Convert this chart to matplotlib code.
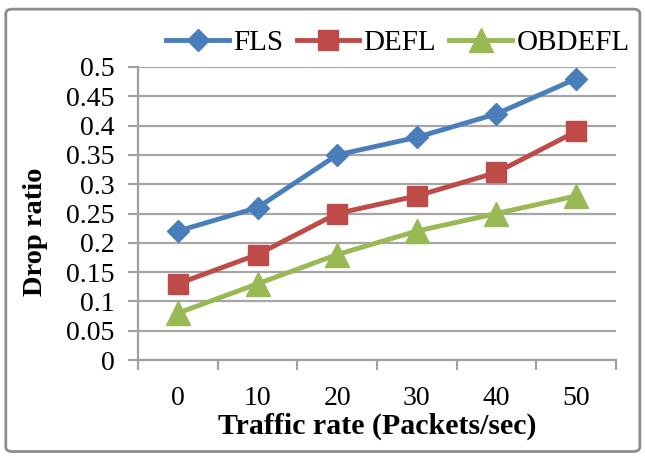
import matplotlib
matplotlib.use("Agg")
import matplotlib.pyplot as plt
from matplotlib.patches import FancyBboxPatch
import numpy as np

categories = ["0", "10", "20", "30", "40", "50"]
fls = [0.22, 0.26, 0.35, 0.38, 0.42, 0.48]
defl = [0.13, 0.18, 0.25, 0.28, 0.32, 0.39]
obdefl = [0.08, 0.13, 0.18, 0.22, 0.25, 0.28]
yticks = [0, 0.05, 0.1, 0.15, 0.2, 0.25, 0.3, 0.35, 0.4, 0.45, 0.5]
ytick_labels = ["0", "0.05", "0.1", "0.15", "0.2", "0.25", "0.3", "0.35", "0.4", "0.45", "0.5"]

plt.rcParams['font.family'] = ['Liberation Serif', 'DejaVu Serif']

W, H = 645, 457
fig = plt.figure(figsize=(W / 100, H / 100), dpi=100)
border = FancyBboxPatch((0.009, 0.012), 0.983, 0.968, boxstyle="round,pad=0,rounding_size=0.01",
                        transform=fig.transFigure, facecolor="none", edgecolor="#8c8c8c",
                        linewidth=2.0, zorder=10)
fig.patches.append(border)

# axes: x 138..616 px, y 67..360 px
ax = fig.add_axes([138 / W, 1 - 360 / H, (616 - 138) / W, (360 - 67) / H])
ax.set_facecolor("none")
x = np.arange(len(categories))

ax.plot(x, fls, color="#4a7ebb", lw=3.5, marker="D", ms=11, mfc="#4a7ebb", mec="#4a7ebb", label="FLS", zorder=5)
ax.plot(x, defl, color="#be4b48", lw=3.5, marker="s", ms=15, mfc="#be4b48", mec="#be4b48", label="DEFL", zorder=5)
ax.plot(x, obdefl, color="#98b954", lw=3.5, marker="^", ms=17, mfc="#98b954", mec="#98b954", label="OBDEFL", zorder=5)

ax.set_xlim(-0.5, len(categories) - 0.5)
ax.set_ylim(0, 0.5)
ax.set_yticks(yticks)
ax.set_yticklabels(ytick_labels)
ax.set_xticks(x)
ax.set_xticklabels(categories)
ax.set_xticks(np.arange(-0.5, len(categories), 1.0), minor=True)
ax.tick_params(axis="x", which="major", length=0, pad=19, labelsize=20)
ax.tick_params(axis="x", which="minor", length=7, width=1.5, color="#a0a0a0", direction="out")
ax.tick_params(axis="y", length=7, width=1.5, color="#a0a0a0", pad=10, labelsize=20)
ax.grid(axis="y", color="#a6a6a6", lw=1.6, zorder=1)
for s in ["top", "right"]:
    ax.spines[s].set_visible(False)
for s in ["left", "bottom"]:
    ax.spines[s].set_color("#a0a0a0")
    ax.spines[s].set_linewidth(1.6)

fig.text(377 / W, 1 - 426 / H, "Traffic rate (Packets/sec)", fontsize=21.5, fontweight="bold",
         ha="center", va="center")
fig.text(35 / W, 1 - 232 / H, "Drop ratio", fontsize=20.5, fontweight="bold",
         ha="center", va="center", rotation=90)

leg = fig.legend(loc="center", bbox_to_anchor=(398 / W, 1 - 43 / H), ncol=3, frameon=False, fontsize=21,
                 handlelength=2.15, handletextpad=0.15, columnspacing=0.45, borderaxespad=0,
                 borderpad=0)

fig.savefig("out.png", dpi=100)
